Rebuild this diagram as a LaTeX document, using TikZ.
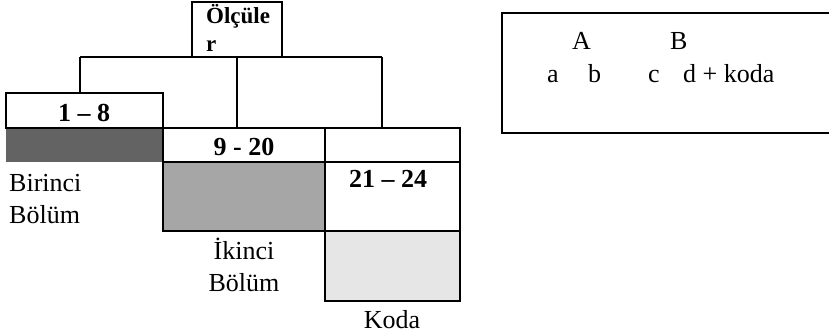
\documentclass[tikz,border=0pt]{standalone}
\usepackage{fontspec}
\setmainfont{Liberation Serif}
\begin{document}
\begin{tikzpicture}[x=1pt,y=-1pt,
  cell/.style={draw=black,line width=2pt,anchor=north west,inner sep=0pt,outer sep=0pt},
  txt/.style={font=\fontsize{26}{30}\selectfont,inner sep=0pt,anchor=base},
  txtl/.style={txt,anchor=base west},
  num/.style={font=\fontsize{26}{30}\selectfont\bfseries,inner sep=0pt,anchor=base},
  head/.style={font=\fontsize{23}{29}\selectfont\bfseries,inner sep=0pt,anchor=base west},
  link/.style={line width=2pt}]
\useasboundingbox (0,0) rectangle (829,336);

% shaded section blocks
\node[cell,draw=none,fill={rgb,255:red,99;green,99;blue,99},minimum width=157pt,minimum height=34pt] (s1) at (6,128) {};
\node[cell,fill={rgb,255:red,166;green,166;blue,166},minimum width=162pt,minimum height=69pt] (s2) at (163,162) {};
\node[cell,fill={rgb,255:red,230;green,230;blue,230},minimum width=135pt,minimum height=70pt] (s3) at (325,231) {};

% header box
\node[cell,minimum width=90pt,minimum height=55pt] (olc) at (192,2) {};
\node[head] (olc1) at (206,24) {Ölçüle};
\node[head] (olc2) at (206,52) {r};

% measure cells
\node[cell,minimum width=157pt,minimum height=35pt] (c18) at (6,93) {};
\node[cell,minimum width=162pt,minimum height=34pt] (c920) at (163,128) {};
\node[cell,minimum width=135pt,minimum height=34pt] (ctr) at (325,128) {};
\node[cell,minimum width=135pt,minimum height=69pt] (c2124) at (325,162) {};

\node[num] (t18) at (84,122) {1 – 8};
\node[num] (t920) at (244,156) {9 - 20};
\node[num] (t2124) at (388,188) {21 – 24};

% branching lines under the header
\coordinate (jl) at (80,57);
\coordinate (jm) at (237,57);
\coordinate (jr) at (382,57);
\draw[link] (jl) -- (jr);
\draw[link] (jl) -- (jl |- c18.north);
\draw[link] (jm) -- (jm |- c920.north);
\draw[link] (jr) -- (jr |- ctr.north);

% section names
\node[txtl] (b1) at (9,192) {Birinci};
\node[txtl] (b2) at (9,224) {Bölüm};
\node[txt] (i1) at (244,260) {İkinci};
\node[txt] (i2) at (244,291) {Bölüm};
\node[txt] (kd) at (392,328) {Koda};

% form summary box
\begin{scope}
\clip (0,0) rectangle (829,336);
\node[cell,minimum width=340pt,minimum height=120pt] (leg) at (502,13) {};
\end{scope}
\node[txtl] (lA) at (572,50) {A};
\node[txtl] (lB) at (670,50) {B};
\node[txtl] (la) at (547,83) {a};
\node[txtl] (lb) at (588,83) {b};
\node[txtl] (lc) at (648,83) {c};
\node[txtl] (ld) at (683,83) {d + koda};
\end{tikzpicture}
\end{document}
